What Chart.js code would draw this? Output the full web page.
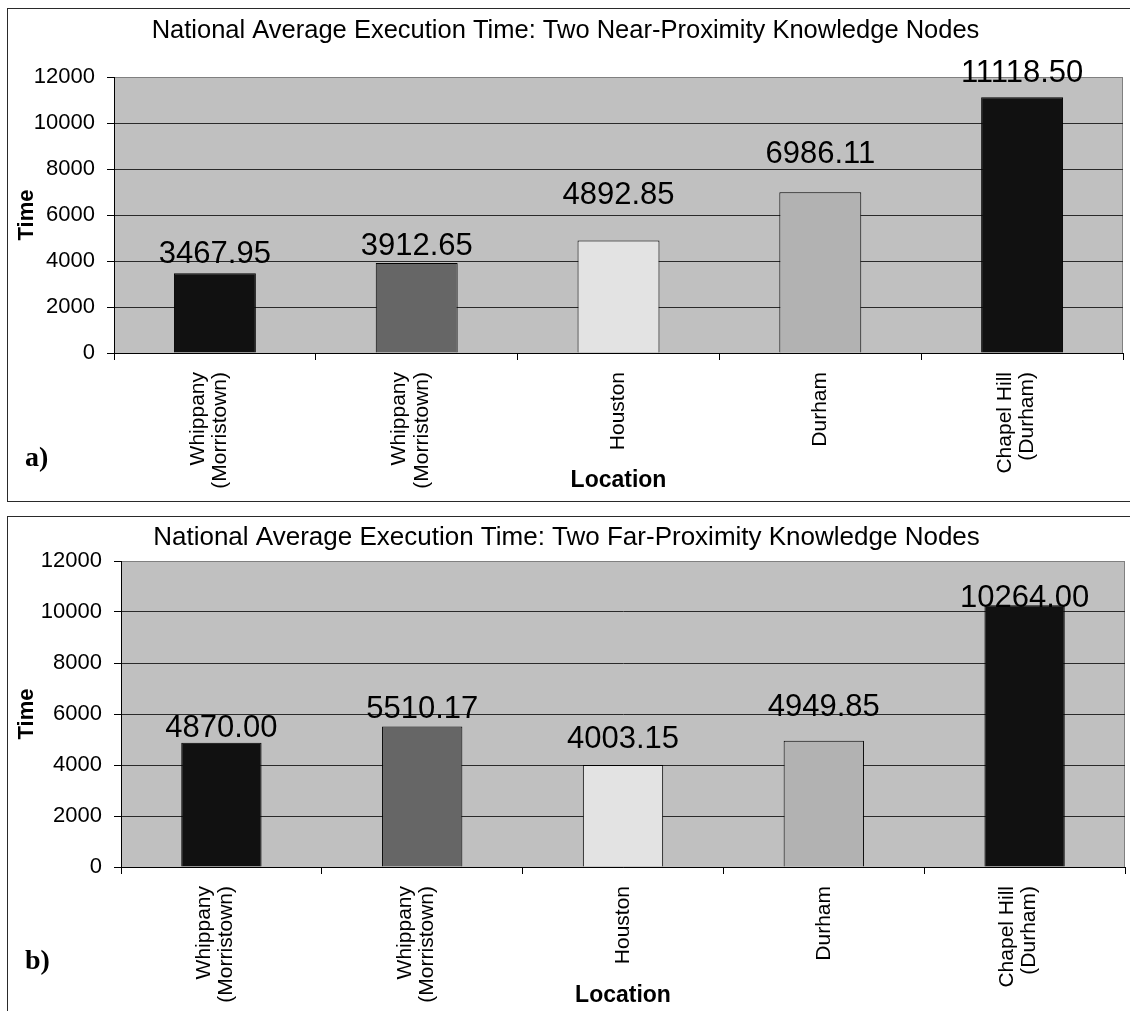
<!DOCTYPE html>
<html>
<head>
<meta charset="utf-8">
<title>National Average Execution Time</title>
<script src="https://cdn.jsdelivr.net/npm/chart.js@4/dist/chart.umd.min.js"></script>
<style>
  html, body { margin: 0; padding: 0; background: #fff; width: 1130px; height: 1011px; overflow: hidden; }
  .panel { position: absolute; border: 1px solid #2a2a2a; box-sizing: border-box; }
  #panelA { left: 7px; top: 8px; width: 1140px; height: 494px; }
  #panelB { left: 7px; top: 516px; width: 1140px; height: 510px; }
  canvas { position: absolute; }
  #chartA { left: 8px; top: 9px; }
  #chartB { left: 8px; top: 517px; }
  .tag { position: absolute; font-family: "Liberation Serif", "Times New Roman", serif; font-weight: bold; font-size: 28px; line-height: 28px; color: #000; }
</style>
</head>
<body>
<div class="panel" id="panelA"></div>
<div class="panel" id="panelB"></div>
<canvas id="chartA" width="1122" height="491" style="width:1122px;height:491px"></canvas>
<canvas id="chartB" width="1122" height="494" style="width:1122px;height:494px"></canvas>
<div class="tag" style="left:25px;top:443px">a)</div>
<div class="tag" style="left:25px;top:946px">b)</div>
<script>
// Locations (x categories), shared by both charts
const locations = [
  ['Whippany', '(Morristown)'],
  ['Whippany', '(Morristown)'],
  ['Houston'],
  ['Durham'],
  ['Chapel Hill', '(Durham)']
];
// Average execution times, two near-proximity knowledge nodes
const nearTimes = [3467.95, 3912.65, 4892.85, 6986.11, 11118.50];
// Average execution times, two far-proximity knowledge nodes
const farTimes = [4870.00, 5510.17, 4003.15, 4949.85, 10264.00];
// Y-axis ticks
const timeTicks = [0, 2000, 4000, 6000, 8000, 10000, 12000];
// Bar fill per location
const barColors = ['#111111', '#666666', '#e3e3e3', '#b2b2b2', '#111111'];

const FONT = '"Liberation Sans", Arial, Helvetica, sans-serif';

// Grey plot-area background with a thin grey frame on top and right
const plotFrame = {
  id: 'plotFrame',
  beforeDraw(chart) {
    const { ctx, chartArea: a } = chart;
    ctx.save();
    ctx.fillStyle = '#c0c0c0';
    ctx.fillRect(a.left, a.top, a.right - a.left, a.bottom - a.top);
    ctx.strokeStyle = '#808080';
    ctx.lineWidth = 1;
    ctx.beginPath();
    ctx.moveTo(a.left, a.top + 0.5);
    ctx.lineTo(a.right - 0.5, a.top + 0.5);
    ctx.lineTo(a.right - 0.5, a.bottom);
    ctx.stroke();
    ctx.restore();
  }
};

// Centre multi-line category labels on their tick (with a slight lean to the left)
const MULTI_LINE_NUDGE = 6;
const centerTickLines = {
  id: 'centerTickLines',
  beforeDraw(chart) {
    const items = chart.scales.x.getLabelItems();
    items.forEach(item => {
      if (item._centred) return;
      const lines = Array.isArray(item.label) ? item.label.length : 1;
      if (lines > 1) {
        item.options.translation[0] -= (lines - 1) * item.font.lineHeight / 2 + MULTI_LINE_NUDGE;
      }
      item._centred = true;
    });
  }
};

// Value printed above each bar
const valueLabels = {
  id: 'valueLabels',
  afterDraw(chart, args, opts) {
    const { ctx } = chart;
    const meta = chart.getDatasetMeta(0);
    const values = chart.data.datasets[0].data;
    ctx.save();
    ctx.font = `${opts.size}px ${FONT}`;
    ctx.fillStyle = '#000';
    ctx.textAlign = 'center';
    ctx.textBaseline = 'middle';
    meta.data.forEach((bar, i) => {
      ctx.fillText(values[i].toFixed(2), bar.x, bar.y - opts.lift[i]);
    });
    ctx.restore();
  }
};

function makeChart(canvasId, titleText, values, cfg) {
  return new Chart(document.getElementById(canvasId), {
    type: 'bar',
    data: {
      labels: locations,
      datasets: [{
        data: values,
        backgroundColor: barColors,
        borderColor: '#000',
        borderWidth: 1,
        categoryPercentage: 1,
        barPercentage: cfg.barPct
      }]
    },
    options: {
      responsive: false,
      animation: false,
      devicePixelRatio: 1,
      layout: { padding: { left: 0, right: cfg.padRight, top: 0, bottom: 0 } },
      plugins: {
        legend: { display: false },
        tooltip: { enabled: false },
        title: {
          display: true,
          text: titleText,
          color: '#000',
          font: { family: FONT, size: cfg.titleSize, weight: 'normal', lineHeight: 1.2 },
          padding: cfg.titlePad
        },
        valueLabels: { size: 31, lift: cfg.lift }
      },
      scales: {
        x: {
          offset: true,
          grid: { offset: true, drawOnChartArea: false, drawTicks: true, tickLength: 7, color: '#000', tickColor: '#000' },
          border: { color: '#000', width: 1 },
          ticks: {
            autoSkip: false, minRotation: 90, maxRotation: 90, padding: 12, color: '#000',
            font: { family: FONT, size: 21, lineHeight: 1.05 }
          },
          title: {
            display: true, text: 'Location', color: '#000',
            font: { family: FONT, size: 23, weight: 'bold', lineHeight: 1.2 },
            padding: { top: 0, bottom: cfg.locPad }
          },
          afterFit(s) { s.height = cfg.xHeight; }
        },
        y: {
          min: 0, max: 12000,
          afterBuildTicks(s) { s.ticks = timeTicks.map(v => ({ value: v })); },
          grid: {
            color: c => (c.tick && c.tick.value === 12000 ? '#808080' : '#2a2a2a'),
            tickColor: '#000', tickLength: 7, lineWidth: 1
          },
          border: { color: '#000', width: 1 },
          ticks: {
            padding: 12, color: '#000', font: { family: FONT, size: 22 },
            callback: v => String(v)
          },
          title: {
            display: true, text: 'Time', color: '#000',
            font: { family: FONT, size: 22, weight: 'bold', lineHeight: 1.2 },
            padding: { top: 6, bottom: 0 }
          },
          afterFit(s) { s.width = cfg.yWidth; }
        }
      }
    },
    plugins: [plotFrame, centerTickLines, valueLabels]
  });
}

makeChart('chartA', 'National Average Execution Time: Two Near-Proximity Knowledge Nodes', nearTimes, {
  barPct: 0.406, padRight: 7, yWidth: 106, xHeight: 147, locPad: 6,
  titleSize: 25.5, titlePad: { top: 7, bottom: 30.4 },
  lift: [19, 17, 45, 38, 24]
});

makeChart('chartB', 'National Average Execution Time: Two Far-Proximity Knowledge Nodes', farTimes, {
  barPct: 0.40, padRight: 5, yWidth: 113, xHeight: 144, locPad: 2,
  titleSize: 26, titlePad: { top: 5, bottom: 7.8 },
  lift: [14, 17, 25, 33, 7]
});
</script>
</body>
</html>
